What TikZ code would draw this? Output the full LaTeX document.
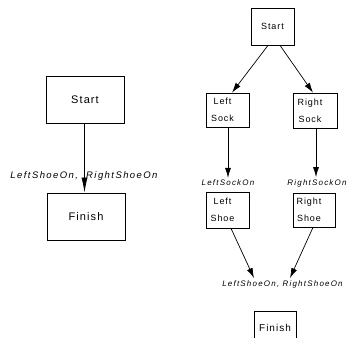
\documentclass[tikz,border=0pt]{standalone}
\usepackage{fontspec}
\setmainfont{Liberation Sans}
\newfontfamily\boxfont[LetterSpace=10]{Liberation Sans}
\newfontfamily\lblfont[LetterSpace=15]{Liberation Sans}
\usetikzlibrary{arrows.meta,calc}
\tikzset{
  box/.style={draw=black, line width=0.75pt, inner sep=0pt, anchor=center},
  bigbox/.style={box, minimum width=78pt, minimum height=47pt},
  twoline/.style={align=center, xshift=-5pt, inner sep=0pt,
    font={\boxfont\fontsize{9}{17}\selectfont}},
  lbl/.style={inner sep=0pt, font={\lblfont\itshape\fontsize{8}{9}\selectfont}},
  conn/.style={line width=0.7pt, draw=black, -{Latex[length=10pt,width=6pt]}},
}
\begin{document}
\begin{tikzpicture}[x=1pt,y=-1pt]
\useasboundingbox (0,0) rectangle (349,338);
\clip (0,0) rectangle (349,338);
\fill[white] (0,0) rectangle (349,338);
% ---------- left diagram ----------
\node[bigbox, font={\boxfont\fontsize{11}{13}\selectfont}] (LStart) at (85,99.5) {Start};
\node[bigbox, font={\boxfont\fontsize{11}{13}\selectfont}] (LFinish) at (86,216.5) {Finish};
\node[lbl, font={\lblfont\itshape\fontsize{9.5}{11}\selectfont}] (LLabel) at (84,176) {LeftShoeOn,\ \ RightShoeOn};
\draw[line width=0.7pt, draw=black, -{Latex[length=15pt,width=6pt]}] ($(LStart.south)+(-0.5,0)$) -- ($(LFinish.north)+(-1.5,0)$);
% ---------- right diagram ----------
\node[box, minimum width=43pt, minimum height=37pt, font={\boxfont\fontsize{9}{10}\selectfont}] (RStart) at (272.5,26.5) {Start};
\node[box, minimum width=43pt, minimum height=34pt, label={[twoline]center:{Left\\Sock}}] (LSock) at (227.5,110) {};
\node[box, minimum width=44pt, minimum height=35pt, label={[twoline]center:{Right\\Sock}}] (RSock) at (315,110.5) {};
\node[lbl] (LSockOn) at (228,183) {LeftSockOn};
\node[lbl] (RSockOn) at (317,183) {RightSockOn};
\node[box, minimum width=43pt, minimum height=36pt, label={[twoline]center:{Left\\Shoe}}] (LShoe) at (227.5,210) {};
\node[box, minimum width=42pt, minimum height=34pt, label={[twoline]center:{Right\\Shoe}}] (RShoe) at (314,210) {};
\node[lbl] (BothOn) at (282.5,284) {LeftShoeOn, RightShoeOn};
\node[box, minimum width=42pt, minimum height=34pt, font={\boxfont\fontsize{10}{11}\selectfont}] (RFinish) at (275,328) {Finish};
% connectors
\draw[conn] ($(RStart.south)+(-4.5,0)$) -- ($(LSock.north)+(4.5,0)$);
\draw[conn] ($(RStart.south)+(7.5,0)$) -- ($(RSock.north)+(-2,0)$);
\draw[conn] ($(LSock.south)+(0.5,0)$) -- ($(LSockOn.north)+(0,-2)$);
\draw[conn] ($(RSock.south)+(1,0)$) -- ($(RSockOn.north)+(-1,-2)$);
\draw[conn] ($(LShoe.south)+(3.5,0)$) -- ($(BothOn.north)+(-28.5,-2)$);
\draw[conn] ($(RShoe.south)+(-1,0)$) -- ($(BothOn.north)+(7.5,-2)$);
\end{tikzpicture}
\end{document}
